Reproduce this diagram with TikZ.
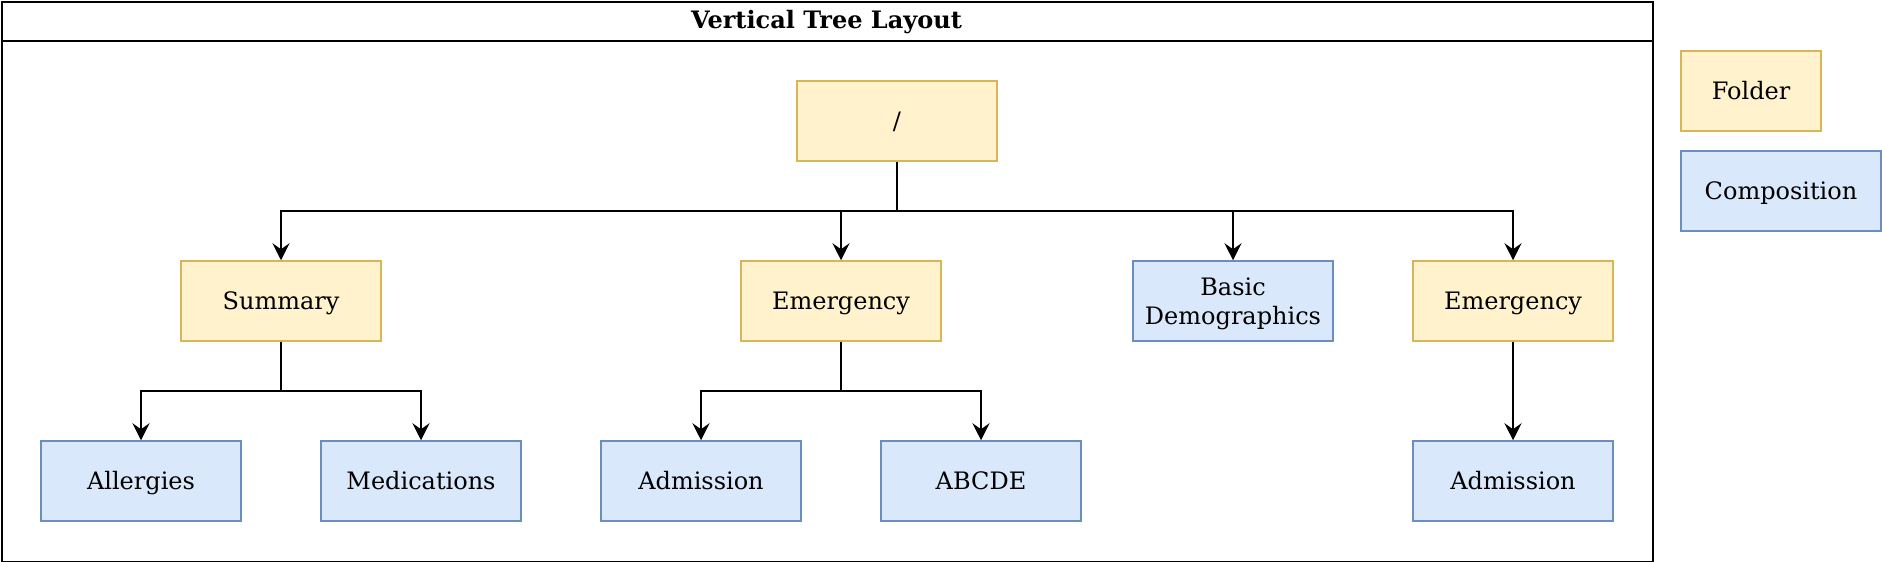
\documentclass[tikz,border=0pt]{standalone}
\usepackage{fontspec}
\setmainfont{DejaVu Serif}
\usetikzlibrary{arrows.meta}
\definecolor{foldfill}{HTML}{FFF2CC}
\definecolor{folddraw}{HTML}{D6B656}
\definecolor{compfill}{HTML}{DAE8FC}
\definecolor{compdraw}{HTML}{6C8EBF}
\begin{document}
\begin{tikzpicture}[x=1pt,y=-1pt,
  every node/.style={font=\fontsize{24}{29}\selectfont, inner sep=0pt, align=center},
  boxbase/.style={minimum width=200pt, minimum height=80pt, line width=1.5pt, text height=22.7pt, text depth=5.3pt},
  folder/.style={boxbase, draw=folddraw, fill=foldfill},
  comp/.style={boxbase, draw=compdraw, fill=compfill},
  conn/.style={line width=2pt, -{Stealth[length=17pt,width=17pt,inset=6pt]}},
  link/.style={line width=2pt}]
\useasboundingbox (0,0) rectangle (1882,562);
% container
\node[draw, line width=2pt, minimum width=1651pt, minimum height=560pt, anchor=north west] (frame) at (1,1) {};
\node[font=\fontsize{24}{29}\selectfont\bfseries, text height=21.3pt, text depth=6.7pt] (title) at (826.5,21) {Vertical Tree Layout};
\coordinate (sepL) at (1,41);
\coordinate (sepR) at (1652,41);
\draw[line width=2pt] (sepL) -- (sepR);
% nodes
\node[folder] (root) at (897,121) {/};
\node[folder] (summary) at (281,301) {Summary};
\node[folder] (em1) at (841,301) {Emergency};
\node[comp, align=left, text depth=34.3pt] (basic) at (1233,301) {\begin{tabular}[t]{@{}c@{}}Basic\\Demographics\end{tabular}};
\node[folder] (em2) at (1513,301) {Emergency};
\node[comp] (allerg) at (141,481) {Allergies};
\node[comp] (medic) at (421,481) {Medications};
\node[comp] (adm1) at (701,481) {Admission};
\node[comp] (abcde) at (981,481) {ABCDE};
\node[comp] (adm2) at (1513,481) {Admission};
% legend
\node[folder, minimum width=140pt] (legfold) at (1751,91) {Folder};
\node[comp] (legcomp) at (1781,191) {Composition};
% branch points
\coordinate (b0) at (897,211);
\coordinate (b1) at (281,391);
\coordinate (b2) at (841,391);
% connectors
\draw[link] (root.south) -- (b0);
\draw[conn] (b0) -| (summary.north);
\draw[conn] (b0) -| (em1.north);
\draw[conn] (b0) -| (basic.north);
\draw[conn] (b0) -| (em2.north);
\draw[link] (summary.south) -- (b1);
\draw[conn] (b1) -| (allerg.north);
\draw[conn] (b1) -| (medic.north);
\draw[link] (em1.south) -- (b2);
\draw[conn] (b2) -| (adm1.north);
\draw[conn] (b2) -| (abcde.north);
\draw[conn] (em2.south) -- (adm2.north);
\end{tikzpicture}
\end{document}
